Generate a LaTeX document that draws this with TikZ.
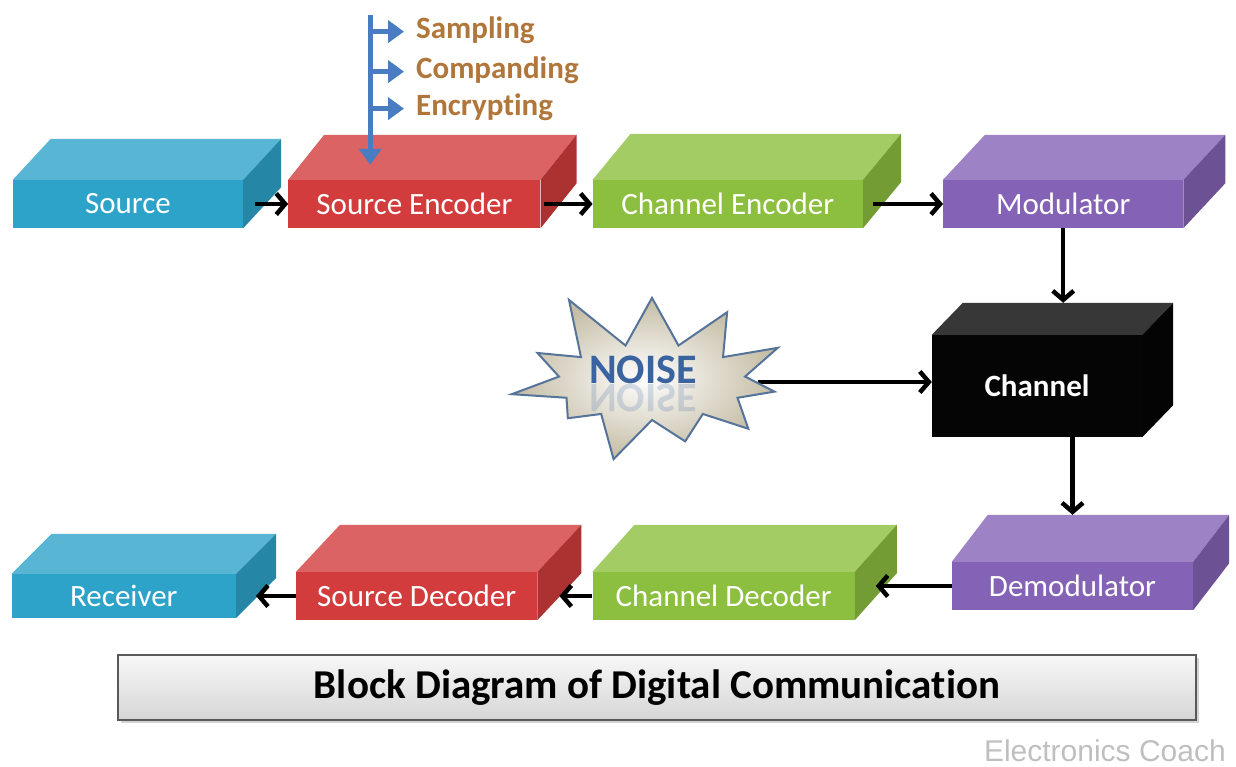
\documentclass[tikz,border=0pt]{standalone}
\usepackage{fontspec}
\setmainfont{Carlito}[Ligatures=NoCommon]
\newfontfamily\creditfont{Liberation Sans}
\usepackage{tikz}
\usetikzlibrary{calc, positioning, arrows.meta, shapes.symbols, shadows}
\pgfdeclarelayer{bg}
\pgfsetlayers{bg,main}

\definecolor{bluebox}{HTML}{2EA3C9}
\definecolor{redbox}{HTML}{D23C3C}
\definecolor{greenbox}{HTML}{8CBF3F}
\definecolor{purplebox}{HTML}{8463B6}
\definecolor{blackbox}{HTML}{050505}
\definecolor{featblue}{HTML}{4A7CC2}
\definecolor{featbrown}{HTML}{B0763A}
\definecolor{noiseblue}{HTML}{3A64A0}
\definecolor{noiseedge}{HTML}{56739A}
\definecolor{noisetan}{HTML}{C4BCA4}

\tikzset{
  block/.style={fill=#1, text=white, inner sep=0pt, minimum height=48pt,
    font=\fontsize{31}{36}\selectfont},
  flow/.style={draw=black, line width=4.5pt, -{Straight Barb[length=9pt,width=21pt]}},
  feedline/.style={draw=featblue, line width=5pt, -{Triangle[length=16pt,width=22pt]}},
  featlabel/.style={text=featbrown, inner sep=0pt, anchor=base west,
    font=\fontsize{31}{36}\selectfont\bfseries},
  noisetext/.style={text=noiseblue, inner sep=0pt, font=\fontsize{42}{48}\selectfont\bfseries},
}

\begin{document}
\begin{tikzpicture}[x=1pt, y=1pt]
  \useasboundingbox (0,0) rectangle (1236,767);

  % transmitter row %
  \node[block=bluebox, minimum width=230pt] (src) at (128,563) {Source};
  \node[block=redbox, minimum width=252pt, right=45pt of src] (senc) {Source Encoder};
  \node[block=greenbox, minimum width=270pt, right=52pt of senc] (cenc) {Channel Encoder};
  \node[block=purplebox, minimum width=240pt, right=80pt of cenc] (mod) {Modulator};

  % channel %
  \node[block=blackbox, minimum width=210pt, minimum height=102pt,
        font=\fontsize{31}{36}\selectfont\bfseries] (chan) at (1037,381) {Channel};

  % receiver row %
  \node[block=purplebox, minimum width=241pt] (demod) at (1072.5,181) {Demodulator};
  \node[block=greenbox, minimum width=262pt, left=97pt of demod, yshift=-10pt] (cdec) {Channel Decoder};
  \node[block=redbox, minimum width=241pt, left=55pt of cdec] (sdec) {Source Decoder};
  \node[block=bluebox, minimum width=224pt, minimum height=44pt, left=60pt of sdec] (recv) {Receiver};

  % top and side faces %
  \foreach \n/\c/\dx/\dy in {src/bluebox/38/41, senc/redbox/36/45, cenc/greenbox/38/46,
      mod/purplebox/42/45, chan/blackbox/31/32, demod/purplebox/36/47,
      cdec/greenbox/42/47, sdec/redbox/44/47, recv/bluebox/40/40} {
    \fill[\c!80!white] (\n.north west) -- ++(\dx,\dy) -- ($(\n.north east)+(\dx,\dy)$)
      -- (\n.north east) -- cycle;
    \fill[\c!82!black] (\n.north east) -- ++(\dx,\dy) -- ($(\n.south east)+(\dx,\dy)$)
      -- (\n.south east) -- cycle;
    \coordinate (\n-side) at ($(\n.east)+(\dx/2,\dy/2)$);
    \coordinate (\n-back) at ($(\n.north)+(\dx,\dy)$);
  }

  % noise %
  \node[starburst, starburst points=11, starburst point height=62pt, random starburst=11,
        draw=noiseedge, line width=2pt, inner color=white, outer color=noisetan,
        minimum width=312pt, minimum height=200pt] (noise) at (652,385) {};
  \node[noisetext] (noiselbl) at (643,397) {NOISE};
  \node[noisetext, opacity=.2, yscale=-1, transform shape] (noiseecho) at (643,369) {NOISE};

  % source encoder steps %
  \coordinate (feed) at ($(senc.north west)+(82,15)$);
  \coordinate (feedtop) at ($(feed)+(0,150)$);
  \node[featlabel] (samp) at (416,728) {Sampling};
  \node[featlabel] (comp) at (416,688) {Companding};
  \node[featlabel] (encr) at (416,651) {Encrypting};
  \draw[feedline] (feedtop) -- (feed);
  \foreach \s in {samp, comp, encr}
    \draw[feedline, shorten >=12pt] ($(feedtop |- \s.mid west)+(0,5)$) -- ($(\s.mid west)+(0,5)$);

  % edges %
  \draw[flow, shorten <=12pt] (src.east) -- (senc.west);
  \draw[flow, shorten <=3pt] (senc.east) -- (cenc.west);
  \draw[flow, shorten <=10pt] (cenc.east) -- (mod.west);
  \draw[flow] (mod.south) -- (mod.south |- chan-back);
  \begin{pgfonlayer}{bg}
    \draw[flow] (noise) -- (noise -| chan.west);
  \end{pgfonlayer}
  \draw[flow] (chan.south -| demod.north) -- (demod.north |- demod-back);
  \draw[flow] (demod.west) -- (demod.west -| cdec-side);
  \draw[flow] (cdec.west) -- (cdec.west -| sdec-side);
  \draw[flow] (sdec.west) -- (sdec.west -| recv-side);

  % caption %
  \node[draw=gray!70!black, line width=1.5pt, top color=gray!6, bottom color=gray!32,
        drop shadow={opacity=.35, shadow xshift=3pt, shadow yshift=-3pt},
        minimum width=1078pt, minimum height=65pt,
        font=\fontsize{41}{48}\selectfont\bfseries] (title) at (657,79.5)
        {Block Diagram of Digital Communication};
  \node[anchor=base east, inner sep=0pt, text=gray!50,
        font=\creditfont\fontsize{30}{34}\selectfont] (credit) at (1226,5) {Electronics Coach};
\end{tikzpicture}
\end{document}
